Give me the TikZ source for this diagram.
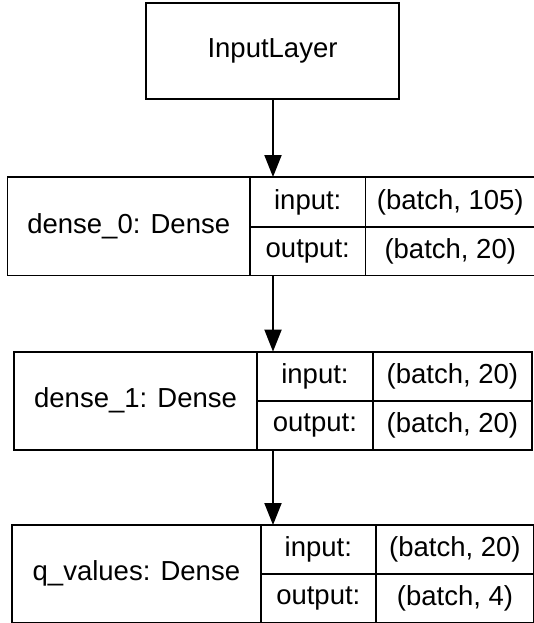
\documentclass[tikz,border=0pt]{standalone}
\usepackage{fontspec}
\setmainfont{Liberation Sans}
\usetikzlibrary{arrows.meta}
\begin{document}
\begin{tikzpicture}[x=1pt,y=-1pt,
  cell/.style={draw, line width=1.9pt, inner sep=0pt, outer sep=0pt, anchor=north west,
    font=\fontsize{27.5}{33}\selectfont},
  arr/.style={line width=1.9pt, -{Triangle[length=22pt,width=17pt]}}]
\useasboundingbox (0,0) rectangle (533,623);
% InputLayer
\node[cell, minimum width=253pt, minimum height=96pt] (in) at (146,3) {InputLayer};
% dense_0
\node[cell, minimum width=242.5pt, minimum height=98.5pt] (d0n) at (7.5,177) {dense\_0: Dense};
\node[cell, minimum width=115.5pt, minimum height=50pt] (d0i) at (250,177) {input:};
\node[cell, minimum width=115.5pt, minimum height=48.5pt] (d0o) at (250,227) {output:};
\node[cell, minimum width=169.5pt, minimum height=50pt] (d0iv) at (365.5,177) {(batch, 105)};
\node[cell, minimum width=169.5pt, minimum height=48.5pt] (d0ov) at (365.5,227) {(batch, 20)};
% dense_1
\node[cell, minimum width=242.5pt, minimum height=98pt] (d1n) at (14.3,351.6) {dense\_1: Dense};
\node[cell, minimum width=116.3pt, minimum height=49pt] (d1i) at (256.8,351.6) {input:};
\node[cell, minimum width=116.3pt, minimum height=49pt] (d1o) at (256.8,400.6) {output:};
\node[cell, minimum width=158.5pt, minimum height=49pt] (d1iv) at (373.1,351.6) {(batch, 20)};
\node[cell, minimum width=158.5pt, minimum height=49pt] (d1ov) at (373.1,400.6) {(batch, 20)};
% q_values
\node[cell, minimum width=249pt, minimum height=97.5pt] (qn) at (11.9,525) {q\_values: Dense};
\node[cell, minimum width=114.8pt, minimum height=49pt] (qi) at (260.9,525) {input:};
\node[cell, minimum width=114.8pt, minimum height=48.5pt] (qo) at (260.9,574) {output:};
\node[cell, minimum width=158.5pt, minimum height=49pt] (qiv) at (375.7,525) {(batch, 20)};
\node[cell, minimum width=158.5pt, minimum height=48.5pt] (qov) at (375.7,574) {(batch, 4)};
% connectors
\coordinate (a0) at (273,99);
\coordinate (a1) at (273,275.5);
\coordinate (a2) at (273,449.6);
\draw[arr] (a0) -- (a0 |- d0i.north);
\draw[arr] (a1) -- (a1 |- d1i.north);
\draw[arr] (a2) -- (a2 |- qi.north);
\end{tikzpicture}
\end{document}
